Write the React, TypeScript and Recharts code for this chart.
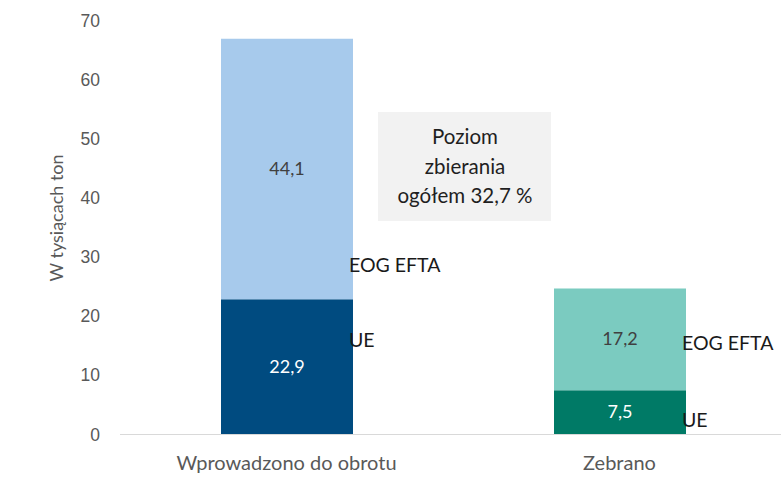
import React from "react";
import { BarChart, Bar, XAxis, YAxis, Cell, LabelList, Customized } from "recharts";

const categories = ["Wprowadzono do obrotu", "Zebrano"];
const ueValues = [22.9, 7.5];
const eogValues = [44.1, 17.2];
const ueLabelAt = [16.0, 2.5];
const eogLabelAt = [28.7, 15.5];
const yTicks = [0, 10, 20, 30, 40, 50, 60, 70];
const boxLines = ["Poziom", "zbierania", "ogółem 32,7 %"];

const ueColors = ["#004b80", "#007a66"];
const eogColors = ["#a7caec", "#7bcbc0"];

const data = categories.map((name, i) => ({
  name,
  ue: ueValues[i],
  eog: eogValues[i],
}));

const fmt = (v: number) => v.toFixed(1).replace(".", ",");

function YTick({ y, payload }: any) {
  return (
    <text x={100} y={y} dy={6} textAnchor="end" fill="#595959" fontSize={17.5} fontFamily="Liberation Sans, Arial, sans-serif">
      {payload.value}
    </text>
  );
}

function XTick({ x, y, payload }: any) {
  return (
    <text x={x} y={y} dy={27} textAnchor="middle" fill="#595959" fontSize={20} fontFamily="Lato, sans-serif">
      {payload.value}
    </text>
  );
}

// side labels ("EOG EFTA" / "UE") placed right of each bar at a value height
function sideLabel(text: string, at: number[], base: number[]) {
  return (props: any) => {
    const { x, y, width, height, value, index } = props;
    const pxPerUnit = height / value;
    const ly = y + height - (at[index] - base[index]) * pxPerUnit;
    return (
      <text x={x + width - 4} y={ly} dy={7} fill="#1a1a1a" fontSize={19.5} fontFamily="Lato, sans-serif">
        {text}
      </text>
    );
  };
}

function innerLabel(color: string) {
  return (props: any) => {
    const { x, y, width, height, value } = props;
    return (
      <text x={x + width / 2} y={y + height / 2} dy={6} textAnchor="middle" fill={color} fontSize={18} fontFamily="Lato, sans-serif">
        {fmt(value)}
      </text>
    );
  };
}

function InfoBox() {
  return (
    <g>
      <rect x={378} y={112} width={173} height={109} fill="#f2f2f2" />
      {boxLines.map((t, i) => (
        <text key={t} x={465} y={137 + i * 29.5} dy={7} textAnchor="middle" fill="#1f1f1f" fontSize={20.5} fontFamily="Lato, sans-serif">
          {t}
        </text>
      ))}
    </g>
  );
}

export default function App() {
  const zeros = [0, 0];
  return (
    <div style={{ position: "absolute", left: 0, top: 0, background: "#fff" }}>
      <BarChart width={781} height={484} data={data} margin={{ top: 21, right: -5, left: 0, bottom: 0 }} barSize={132}>
        <XAxis dataKey="name" height={49.5} axisLine={{ stroke: "#d9d9d9" }} tickLine={false} tick={<XTick />} />
        <YAxis
          width={120}
          domain={[0, 70]}
          ticks={yTicks}
          axisLine={false}
          tickLine={false}
          tick={<YTick />}
          label={{
            content: () => (
              <text x={57} y={218} transform="rotate(-90 57 218)" textAnchor="middle" dy={6} fill="#595959" fontSize={18} fontFamily="Lato, sans-serif">
                W tysiącach ton
              </text>
            ),
          }}
        />
        <Bar dataKey="ue" stackId="a" isAnimationActive={false}>
          {data.map((_, i) => (
            <Cell key={i} fill={ueColors[i]} />
          ))}
          <LabelList dataKey="ue" content={innerLabel("#ffffff")} />
          <LabelList dataKey="ue" content={sideLabel("UE", ueLabelAt, zeros)} />
        </Bar>
        <Bar dataKey="eog" stackId="a" isAnimationActive={false}>
          {data.map((_, i) => (
            <Cell key={i} fill={eogColors[i]} />
          ))}
          <LabelList dataKey="eog" content={innerLabel("#404040")} />
          <LabelList dataKey="eog" content={sideLabel("EOG EFTA", eogLabelAt, ueValues)} />
        </Bar>
        <Customized component={<InfoBox />} />
      </BarChart>
    </div>
  );
}
